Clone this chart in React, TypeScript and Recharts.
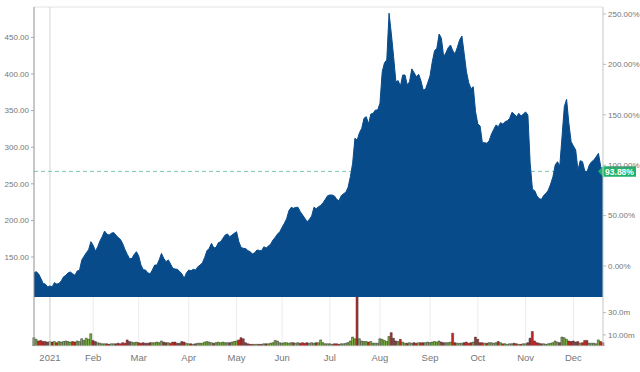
import {
  ComposedChart,
  Area,
  Bar,
  Cell,
  XAxis,
  YAxis,
  CartesianGrid,
  ReferenceLine,
} from "recharts";

// daily closes, one per trading day (late Dec 2020 .. mid Dec 2021)
const closes = [
  128.5, 130, 127, 121, 114, 113, 109, 110.5, 109.5, 115,
  113, 114, 117.5, 123, 125, 128.5, 129.5, 127, 125, 131,
  132, 146, 151, 156, 160, 171, 166, 158, 164, 172,
  178, 185.5, 181.4, 180, 182.4, 183.5, 180, 176.5, 174, 168,
  160, 153.5, 147.7, 148, 153.5, 157.3, 151.5, 139, 132.7, 132.2,
  128.6, 126.8, 132.2, 139, 139, 146, 155, 148.2, 143.6, 146,
  140.5, 134.5, 133.6, 133.2, 130.4, 126.8, 120.9, 128.6, 132.2, 131.3,
  133.2, 132.2, 136.8, 139, 142.3, 149.5, 158.7, 161.9, 168.7, 162.3,
  163.2, 169.6, 171, 175.5, 180, 181.5, 177.8, 180, 182.4, 184.6,
  171, 163, 161.9, 161.5, 158.7, 157.3, 154, 156, 159.6, 159,
  158.7, 164, 162.3, 165, 167.7, 173.2, 176.9, 181.5, 184.6, 190.5,
  196, 202.4, 213.3, 217.9, 216.5, 217.9, 217.9, 211.9, 207.4, 202.9,
  198.3, 201.5, 206, 217.9, 216, 218.7, 220.6, 224.2, 228.8, 233.8,
  234.7, 234.7, 233.3, 228.8, 226.9, 233.8, 236.5, 238.4, 245.2, 259.7,
  278, 312.1, 309.8, 319.8, 325.8, 339.5, 341.7, 331.7, 345.3, 346.3,
  350.8, 350.8, 360, 403.1, 415.4, 419.1, 483, 455, 423.6, 389.5,
  390.9, 383.6, 398.6, 398.6, 385, 389.5, 407, 401.8, 396.3, 399.6,
  390.9, 378.1, 379, 388.1, 397.2, 416.8, 431.8, 435.1, 454.6, 448.7,
  423.6, 429.1, 435.9, 439.6, 431.8, 427.3, 436.4, 446.4, 451.9, 428.2,
  403.1, 388.1, 379.9, 382.6, 348.5, 331.7, 328.9, 306.2, 306.2, 305.3,
  308.9, 318, 324.4, 330.3, 328, 333.5, 331.7, 334.8, 336.2, 339.5,
  347.6, 345.3, 341.7, 346.3, 342.6, 345.3, 348.1, 344, 278, 242.5,
  240.6, 233.3, 229.7, 228.8, 234.3, 237, 241.5, 249.7, 259.7, 275.7,
  280.2, 274.3, 314.3, 355.3, 365.4, 332.6, 307.5, 301.6, 296.2, 268.8,
  281.6, 280.2, 267.5, 266.5, 275.7, 280.2, 282.5, 287, 291.6, 273.4, 267,
];

// volume in millions
const volumes = [
  7.5, 6, 4.5, 5, 4, 4, 3.5, 4, 3.5, 4,
  3, 4, 3.5, 4, 4.5, 4, 3.5, 4, 3.5, 4.5,
  4, 6.5, 5, 7, 6, 11, 5, 4, 3, 2.5,
  2, 2, 2, 1.5, 2, 2, 2, 2.5, 2, 3,
  2.5, 5.5, 4, 3.5, 3, 3.5, 3, 2.5, 3, 2.5,
  2.5, 3, 3, 3, 3.5, 3, 4.5, 3.5, 3, 3,
  2.5, 3.5, 3.5, 2.5, 2.5, 4, 3.5, 2.5, 2, 2,
  1.5, 2, 2.5, 2.5, 2.5, 3.5, 4, 3.5, 3, 2.5,
  3, 3.5, 3, 3.5, 3, 3, 3, 3.5, 4, 4.5,
  5.5, 7.5, 6.5, 3, 2, 1.5, 1.5, 1.5, 1.5, 1.5,
  1.5, 2, 2, 2, 2.5, 3, 5, 4.5, 3, 2.5,
  3, 3, 2.5, 3, 3, 2.5, 3, 2.5, 3, 2.5,
  3, 2.5, 3, 2.5, 3, 3, 5.5, 3, 2, 2,
  2, 1.5, 2, 2, 1.5, 2, 2, 2.5, 3, 4.5,
  8, 6.5, 60, 6.5, 4.5, 4, 4, 3.5, 4, 2.5,
  2.5, 2.5, 6.5, 6, 5, 4, 8.5, 12, 7, 4.5,
  4, 6, 3.5, 2.5, 2.5, 3, 2.5, 3, 2.5, 3,
  3, 3, 3, 3.5, 3, 3.5, 4, 3.5, 4.5, 3.5,
  3, 3, 3, 3.5, 11.5, 3, 2.5, 2.5, 2.5, 3,
  3.5, 2.5, 3, 3.5, 8, 6, 3, 3, 2.5, 2.5,
  3, 3, 2.5, 3, 4, 3, 2, 2, 1.5, 2,
  2, 2.5, 2, 1.5, 1.5, 2, 2, 3, 7, 13,
  4.5, 3, 2.5, 2, 2, 1.5, 2, 2.5, 3, 4.5,
  3.5, 3, 8, 7.5, 6, 4.5, 4, 4.5, 3.5, 4,
  2.5, 3, 5, 5, 2.5, 2.5, 2.5, 2, 5.5, 4, 3,
];

const monthTicks = [7, 26, 46, 68, 89, 109, 130, 152, 174, 195, 216, 237];
const monthLabels = ["2021", "Feb", "Mar", "Apr", "May", "Jun", "Jul", "Aug", "Sep", "Oct", "Nov", "Dec"];
const priceTicks = [150, 200, 250, 300, 350, 400, 450];
const pctTicks = [0, 50, 100, 150, 200, 250];
const volTicks = [10, 20, 30];
const lastChange = 93.88;

const lastClose = closes[closes.length - 1];
const basePrice = lastClose / (1 + lastChange / 100);
const priceDomain = [95.4, 491.5];
const pctDomain = priceDomain.map((p) => (p / basePrice - 1) * 100);

const data = closes.map((close, i) => ({
  i,
  close,
  vol: volumes[i],
  up: i === 0 || close >= closes[i - 1],
}));

const BLUE = "#084b8a";
const tickStyle = { fill: "#777", fontSize: 8 };
const MARGIN = { top: 7, right: 0, bottom: 0, left: 0 };

function ChangeTag(props: any) {
  const vb = props.viewBox;
  if (!vb) return null;
  const xr = vb.x + vb.width;
  const y = vb.y;
  return (
    <g>
      <polygon
        points={`${xr - 5},${y} ${xr},${y - 5} ${xr + 33},${y - 5} ${xr + 33},${y + 5.5} ${xr},${y + 5.5}`}
        fill="#1fb36b"
      />
      <text x={xr + 16.5} y={y + 3.2} textAnchor="middle" fill="#fff" fontSize={8.5} fontWeight={600}>
        {lastChange.toFixed(2)}%
      </text>
    </g>
  );
}

const volFmt = (v: number) => (v === 10 ? "10.00m" : `${v.toFixed(1)}m`);
const monthFmt = (v: number) => monthLabels[monthTicks.indexOf(v)] ?? "";

export default function App() {
  const hiddenX = (
    <XAxis
      type="number"
      dataKey="i"
      domain={[0, 250]}
      ticks={monthTicks}
      tick={false}
      tickLine={false}
      axisLine={false}
      height={0}
    />
  );
  return (
    <div
      style={{
        position: "absolute",
        left: 0,
        top: 0,
        width: 640,
        height: 372,
        background: "#fff",
        fontFamily: "'Liberation Sans', Arial, sans-serif",
      }}
    >
      <div style={{ position: "relative", width: 640, height: 297 }}>
        {/* back layer: grid + dashed last-price line sit behind the area */}
        <div style={{ position: "absolute", left: 0, top: 0 }}>
          <ComposedChart width={640} height={297} data={data} margin={MARGIN}>
            <CartesianGrid yAxisId="pct" stroke="#ececec" />
            {hiddenX}
            <YAxis yAxisId="price" width={34} domain={priceDomain} allowDataOverflow tick={false} tickLine={false} axisLine={false} />
            <YAxis
              yAxisId="pct"
              orientation="right"
              width={37}
              domain={pctDomain}
              allowDataOverflow
              ticks={pctTicks}
              tick={false}
              tickLine={false}
              axisLine={false}
            />
            <ReferenceLine yAxisId="price" y={priceDomain[1]} stroke="#ececec" />
            <ReferenceLine yAxisId="price" x={monthTicks[0]} stroke="#d4d4d4" />
            <ReferenceLine yAxisId="price" y={lastClose} stroke="#7cc6b4" strokeDasharray="4 3" />
          </ComposedChart>
        </div>
        <div style={{ position: "absolute", left: 0, top: 0 }}>
          <ComposedChart width={640} height={297} data={data} margin={MARGIN}>
            {hiddenX}
            <YAxis
              yAxisId="price"
              orientation="left"
              width={34}
              domain={priceDomain}
              allowDataOverflow
              ticks={priceTicks}
              tickFormatter={(v: number) => v.toFixed(2)}
              tick={tickStyle}
              tickSize={3}
              tickMargin={2}
              tickLine={{ stroke: "#aaa" }}
              axisLine={{ stroke: "#9a9a9a" }}
            />
            <YAxis
              yAxisId="pct"
              orientation="right"
              width={37}
              domain={pctDomain}
              allowDataOverflow
              ticks={pctTicks}
              tickFormatter={(v: number) => `${v.toFixed(2)}%`}
              tick={tickStyle}
              tickSize={3}
              tickMargin={2}
              tickLine={{ stroke: "#bbb" }}
              axisLine={{ stroke: "#cfcfcf" }}
            />
            <Area
              yAxisId="price"
              type="linear"
              dataKey="close"
              stroke={BLUE}
              strokeWidth={1}
              fill={BLUE}
              fillOpacity={1}
              isAnimationActive={false}
            />
            <ReferenceLine yAxisId="price" y={lastClose} stroke="none" label={<ChangeTag />} />
          </ComposedChart>
        </div>
      </div>
      <ComposedChart width={640} height={75} data={data} margin={{ top: 0, right: 0, bottom: 0, left: 0 }}>
        <CartesianGrid horizontal={false} stroke="#ececec" />
        <XAxis
          type="number"
          dataKey="i"
          domain={[0, 250]}
          ticks={monthTicks}
          tickFormatter={monthFmt}
          tick={{ fill: "#777", fontSize: 9.5 }}
          tickLine={false}
          tickSize={4}
          tickMargin={4}
          axisLine={{ stroke: "#e2e2e2" }}
          height={26}
        />
        <YAxis
          yAxisId="left"
          orientation="left"
          width={34}
          domain={[0, 1]}
          tick={false}
          tickLine={false}
          axisLine={{ stroke: "#9a9a9a" }}
        />
        <YAxis
          yAxisId="vol"
          orientation="right"
          width={37}
          domain={[0, 44]}
          allowDataOverflow
          ticks={volTicks}
          tickFormatter={volFmt}
          tick={tickStyle}
          tickSize={3}
          tickMargin={2}
          tickLine={{ stroke: "#bbb" }}
          axisLine={{ stroke: "#cfcfcf" }}
        />
        <ReferenceLine yAxisId="vol" x={monthTicks[0]} stroke="#d4d4d4" />
        <Bar yAxisId="vol" dataKey="vol" barSize={2} isAnimationActive={false} stroke="#2b2b2b" strokeWidth={0.5}>
          {data.map((d) => (
            <Cell key={d.i} fill={d.up ? "#7cb342" : "#c62828"} />
          ))}
        </Bar>
      </ComposedChart>
    </div>
  );
}
